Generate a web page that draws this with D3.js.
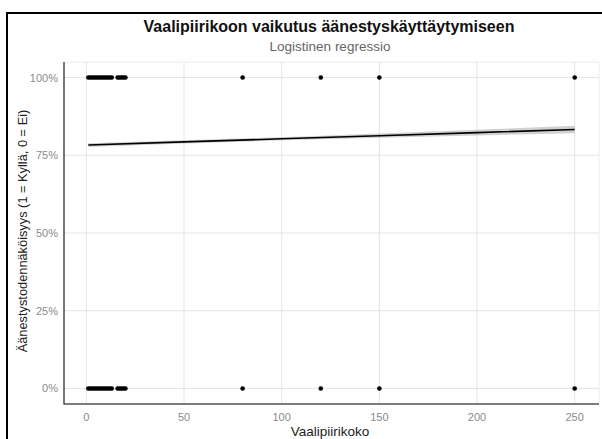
<!DOCTYPE html>
<html>
<head>
<meta charset="utf-8">
<script src="https://cdn.jsdelivr.net/npm/d3@7"></script>
<style>
html,body{margin:0;padding:0;background:#fff;}
svg{display:block;font-family:"Liberation Sans",Arial,sans-serif;}
</style>
</head>
<body>
<svg id="chart" width="602" height="439"></svg>
<script>
// Observed data: district size and vote (1 = yes, 0 = no)
const sizesYes = [1,2,3,4,5,6,7,8,9,10,11,12,13,16,17,18,19,20,80,120,150,250];
const sizesNo  = [1,2,3,4,5,6,7,8,9,10,11,12,13,16,17,18,19,20,80,120,150,250];
// Fitted logistic curve
const fitX     = [1, 50, 100, 150, 200, 250];
const fitY     = [0.783, 0.793, 0.803, 0.813, 0.823, 0.833];
const fitLow   = [0.777, 0.788, 0.798, 0.806, 0.814, 0.821];
const fitHigh  = [0.789, 0.798, 0.808, 0.820, 0.832, 0.845];
const xTicks = [0, 50, 100, 150, 200, 250];
const yTicks = [0, 0.25, 0.5, 0.75, 1];

(function(){
const svg = d3.select("#chart");
const pL = 64, pR = 599, pT = 62, pB = 404;

const x = d3.scaleLinear().domain([-11.45, 262.45]).range([pL, pR]);
const y = d3.scaleLinear().domain([-0.05, 1.05]).range([pB, pT]);

// outer frame (left and top visible)
svg.append("line").attr("x1",7).attr("x2",7).attr("y1",12).attr("y2",439).attr("stroke","#000").attr("stroke-width",2);
svg.append("line").attr("x1",6).attr("x2",602).attr("y1",13).attr("y2",13).attr("stroke","#000").attr("stroke-width",2);

// panel border light
svg.append("rect").attr("x",pL).attr("y",pT).attr("width",pR-pL).attr("height",pB-pT)
  .attr("fill","none").attr("stroke","#ebebeb").attr("stroke-width",1);

// grid
svg.append("g").selectAll("line").data(xTicks).join("line")
  .attr("x1",d=>x(d)).attr("x2",d=>x(d)).attr("y1",pT).attr("y2",pB)
  .attr("stroke","#e4e4e4").attr("stroke-width",1);
svg.append("g").selectAll("line").data(yTicks).join("line")
  .attr("x1",pL).attr("x2",pR).attr("y1",d=>y(d)).attr("y2",d=>y(d))
  .attr("stroke","#e4e4e4").attr("stroke-width",1);

// CI band
const fit = fitX.map((d,i)=>({x:d,y:fitY[i],lo:fitLow[i],hi:fitHigh[i]}));
svg.append("path").datum(fit)
  .attr("d", d3.area().x(d=>x(d.x)).y0(d=>y(d.lo)).y1(d=>y(d.hi)))
  .attr("fill","#999").attr("opacity",0.45);
svg.append("path").datum(fit)
  .attr("d", d3.line().x(d=>x(d.x)).y(d=>y(d.y)))
  .attr("fill","none").attr("stroke","#000").attr("stroke-width",1.6);

// points
svg.append("g").selectAll("circle").data(sizesYes).join("circle")
  .attr("cx",d=>x(d)).attr("cy",y(1)).attr("r",2.3).attr("fill","#000");
svg.append("g").selectAll("circle").data(sizesNo).join("circle")
  .attr("cx",d=>x(d)).attr("cy",y(0)).attr("r",2.3).attr("fill","#000");

// axes lines
svg.append("line").attr("x1",pL).attr("x2",pL).attr("y1",pT).attr("y2",pB+0.5).attr("stroke","#222").attr("stroke-width",1.2);
svg.append("line").attr("x1",pL).attr("x2",pR).attr("y1",pB).attr("y2",pB).attr("stroke","#555").attr("stroke-width",1.6);

// tick labels
svg.append("g").selectAll("text").data(xTicks).join("text")
  .attr("x",d=>x(d)).attr("y",pB+17).attr("text-anchor","middle")
  .attr("font-size",11).attr("fill","#8a8a8a").text(d=>d);
svg.append("g").selectAll("text").data(yTicks).join("text")
  .attr("x",pL-6).attr("y",d=>y(d)+4).attr("text-anchor","end")
  .attr("font-size",11).attr("fill","#8a8a8a").text(d=>d3.format(".0%")(d));

// titles
svg.append("text").attr("x",329).attr("y",32).attr("text-anchor","middle")
  .attr("font-size",16).attr("font-weight","bold").attr("fill","#111")
  .text("Vaalipiirikoon vaikutus äänestyskäyttäytymiseen");
svg.append("text").attr("x",330).attr("y",51).attr("text-anchor","middle")
  .attr("font-size",13.5).attr("fill","#666").text("Logistinen regressio");
svg.append("text").attr("x",330).attr("y",436).attr("text-anchor","middle")
  .attr("font-size",13.5).attr("fill","#222").text("Vaalipiirikoko");
svg.append("text").attr("transform","translate(27,231) rotate(-90)").attr("text-anchor","middle")
  .attr("font-size",12.8).attr("fill","#222").text("Äänestystodennäköisyys (1 = Kyllä, 0 = Ei)");
})();
</script>
</body>
</html>
